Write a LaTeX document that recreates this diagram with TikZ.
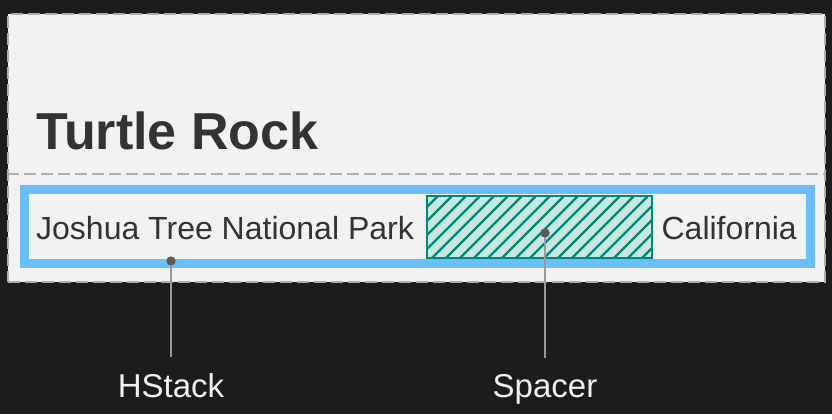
\documentclass[tikz,border=0pt]{standalone}
\usepackage{fontspec}
\setmainfont{Liberation Sans}
\usetikzlibrary{positioning}
\definecolor{bgdark}{HTML}{1C1C1E}
\definecolor{cardgray}{HTML}{F2F2F2}
\definecolor{dashgray}{HTML}{AEAEAE}
\definecolor{stackblue}{HTML}{6CBEFA}
\definecolor{spacerteal}{HTML}{00877A}
\definecolor{spacerfill}{HTML}{C9E8DF}
\definecolor{inkgray}{HTML}{333333}
\definecolor{callgray}{HTML}{999999}
\definecolor{dotgray}{HTML}{5A5A5A}
\tikzset{
  card/.style={draw=dashgray, fill=cardgray, line width=2pt, dash pattern=on 12pt off 5pt, inner sep=0pt, minimum width=817pt, minimum height=268pt}, % the light card behind everything
  stackframe/.style={draw=stackblue, line width=9pt, inner sep=0pt, minimum width=786pt, minimum height=74pt}, % blue outline of the row
  spacerbox/.style={draw=spacerteal, line width=2pt, inner sep=0pt, minimum width=225pt, minimum height=62pt}, % hatched spacer
  rowtext/.style={text=inkgray, inner sep=0pt, font=\fontsize{32}{38}\selectfont}, % text inside the row
  titletext/.style={text=inkgray, inner sep=0pt, font=\fontsize{52}{60}\selectfont\bfseries}, % big heading
  calldot/.style={circle, fill=dotgray, minimum size=9pt, inner sep=0pt}, % dot at the start of a callout
  callline/.style={draw=callgray, line width=2pt}, % the callout stem
  calllabel/.style={text=white!94!black, anchor=base, inner xsep=0pt, inner ysep=16pt, font=\fontsize{33}{40}\selectfont}, % name under a stem
}

\begin{document}
\begin{tikzpicture}[x=1pt, y=-1pt]
    \fill[bgdark] (0,0) rectangle (832,414);

    \node[card] (CARD) at (416.5,148) {};
    \draw[dashgray, line width=2pt, dash pattern=on 12pt off 5pt] (CARD.west |- 0,174) -- (CARD.east |- 0,174);

    \node[titletext, anchor=base west] (TITLE) at (36,149) {Turtle Rock};

    \node[stackframe] (HSTACK) at (417,226) {};
    \node[spacerbox, fill=spacerfill] (SPACER) at (539.5,227) {};
    \begin{scope}
      \clip (SPACER.south west) rectangle (SPACER.north east);
      \foreach \x in {362,376,...,670}
        \draw[spacerteal, line width=2.2pt] (\x,258) -- ++(62,-62);
    \end{scope}
    \node[spacerbox] at (SPACER) {};

    \node[rowtext, anchor=base west] (PARK) at (36,239) {Joshua Tree National Park};
    \node[rowtext, anchor=base east] (STATE) at (797,239) {California};

    \node[calllabel] (HSTACK_LABEL) at (171,397) {HStack};
    \node[calllabel] (SPACER_LABEL) at (545,397) {Spacer};

    \node[calldot] (HSTACK_DOT) at (171,261) {};
    \node[calldot] (SPACER_DOT) at (545,233) {};

    \draw[callline] (HSTACK_DOT.center) -- (HSTACK_LABEL.north);
    \draw[callline] (SPACER_DOT.center) -- (SPACER_LABEL.north);
    \node[calldot] at (HSTACK_DOT) {};
    \node[calldot] at (SPACER_DOT) {};
\end{tikzpicture}
\end{document}
